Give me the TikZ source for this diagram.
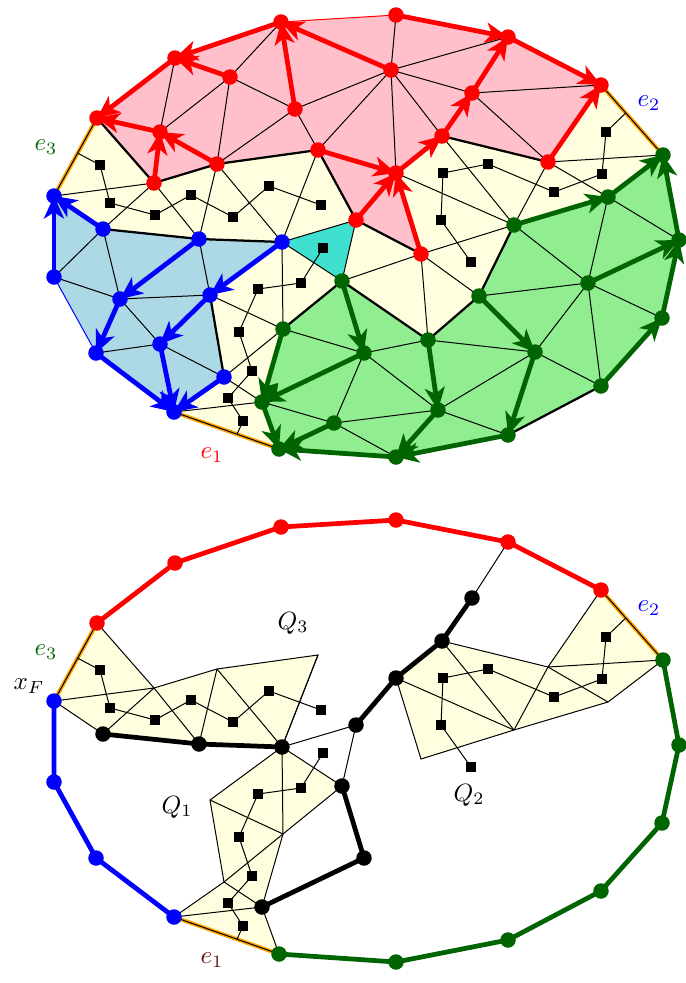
\documentclass[tikz,border=0pt]{standalone}
\usepackage{xcolor}
\usetikzlibrary{arrows.meta,calc}
\definecolor{TRed}{HTML}{FF0000}
\definecolor{TBlue}{HTML}{0000FF}
\definecolor{TGreen}{HTML}{006400}
\definecolor{TOrange}{HTML}{FFA500}
\definecolor{TPink}{HTML}{FFC0CB}
\definecolor{TLightBlue}{HTML}{ADD8E6}
\definecolor{TLightGreen}{HTML}{90EE90}
\definecolor{TYellow}{HTML}{FFFFE0}
\definecolor{TCyan}{HTML}{40E0D0}
\definecolor{TDarkRed}{HTML}{5A1010}

\tikzset{
  edge/.style={line width=.4pt},
  cut/.style={line width=.9pt},
  rim/.style={line width=1.9pt,line join=round},
  flow/.style={line width=1.9pt,-{Stealth[length=9pt,width=8pt,inset=2.5pt]}},
  eside/.style={TOrange,line width=1.6pt}
}
\newcommand\dotr{3.1pt}

% vertices of the triangulation and dual (square) points
\newcommand\setvertices{%
  \foreach \n/\x/\y in {R1/97/118,R2/175/58,R3/281/22,R4/396/15,R5/508/37,R6/601/85,
    G1/663/155,G2/679/240,G3/662/318,G4/601/386,G5/508/435,G6/396/457,G7/279/449,
    B1/174/412,B2/96/353,B3/54/277,B4/54/196,
    ra/230/77,rb/295/109,rc/160/132,rd/217/164,re/318/150,rf/154/183,rg/391/70,
    rh/472/93,ri/442/136,rj/548/162,rk/396/173,rl/356/220,rm/421/254,
    ba/103/229,bb/199/239,bc/282/242,bd/120/299,be/210/295,bf/160/344,bg/224/377,
    ga/608/197,gb/514/225,gc/342/281,gd/283/329,ge/262/402,gf/334/423,gg/588/283,
    gh/479/296,gi/428/340,gj/364/353,gk/535/352,gl/438/410}
    \coordinate (\n) at (\x,\y);
  \foreach \n/\x/\y in {u1/100/165,u2/110/203,u3/155/215,u4/191/195,u5/233/217,u6/269/186,u7/321/205,
    v1/243/421,v2/228/398,v3/252/371,v4/239/332,v5/258/289,v6/301/283,v7/323/248,
    w1/606/132,w2/602/174,w3/554/192,w4/488/164,w5/443/173,w6/441/220,w7/471/262}
    \coordinate (\n) at (\x,\y);
}
\newcommand\dualtrees{%
  \draw[edge] ($(R1)!.45!(B4)$) -- (u1) -- (u2) -- (u3) -- (u4) -- (u5) -- (u6) -- (u7);
  \draw[edge] ($(B1)!.6!(G7)$) -- (v1) -- (v2) -- (v3) -- (v4) -- (v5) -- (v6) -- (v7);
  \draw[edge] ($(R6)!.4!(G1)$) -- (w1) -- (w2) -- (w3) -- (w4) -- (w5) -- (w6) -- (w7);
  \foreach \n in {u1,u2,u3,u4,u5,u6,u7,v1,v2,v3,v4,v5,v6,v7,w1,w2,w3,w4,w5,w6,w7}
    \fill (\n) ++(-1.9pt,-1.9pt) rectangle ++(3.8pt,3.8pt);
}

\begin{document}
\begin{tikzpicture}[x=.4pt,y=-.4pt]
\path[use as bounding box] (0,0) rectangle (686,983);

%% upper panel
\setvertices
\fill[TYellow] (R1) -- (R2) -- (R3) -- (R4) -- (R5) -- (R6) -- (G1) -- (G2) -- (G3) -- (G4) -- (G5) -- (G6) -- (G7) -- (B1) -- (B2) -- (B3) -- (B4) -- cycle;
\fill[TPink] (R1) -- (R2) -- (R3) -- (R4) -- (R5) -- (R6) -- (rj) -- (ri) -- (rk) -- (rm) -- (rl) -- (re) -- (rd) -- (rf) -- cycle;
\fill[TLightBlue] (B4) -- (ba) -- (bb) -- (bc) -- (be) -- (bg) -- (B1) -- (B2) -- (B3) -- cycle;
\fill[TLightGreen] (G1) -- (G2) -- (G3) -- (G4) -- (G5) -- (G6) -- (G7) -- (ge) -- (gd) -- (gc) -- (gi) -- (gh) -- (gb) -- (ga) -- cycle;
\fill[TCyan] (bc) -- (rl) -- (gc) -- cycle;
\foreach \a/\b in {R2/rc,ra/rc,ra/rd,ra/R3,ra/rb,rb/rd,rb/re,rb/rg,rg/R4,rg/R5,rg/rh,rg/rk,rg/ri,rg/re,rh/R6,rh/rj,
  B4/rf,rf/ba,rf/bb,rd/bb,rd/bc,re/bc,bc/rl,rl/gc,gc/bc,
  bc/gd,be/gd,bg/gd,bg/ge,B1/ge,
  rm/gc,rm/gi,rm/gh,rm/gb,rk/gb,ri/gb,rj/gb,rj/ga,rj/G1,
  B3/ba,B3/bd,ba/bd,bb/be,bd/be,bd/bf,B2/bf,bf/bg,
  gd/gj,gj/gi,gb/gg,ga/gg,ga/G2,gh/gg,gg/gk,gi/gk,gg/G3,gg/G4,gk/G4,gk/gl,gj/gl,gj/gf,ge/gf,gf/gl,gf/G6,gl/G5}
  \draw[edge] (\a) -- (\b);
\foreach \a/\b in {R1/rf,rf/rd,rd/re,re/rl,rl/rm,ri/rj,ba/bb,bb/bc,be/bg,gc/gd,gc/gi,gi/gh,gh/gb,G4/G5}
  \draw[cut] (\a) -- (\b);
\draw[edge,TRed] (R3) -- (R4);
\draw[edge,TBlue] (B3) -- (B2);
\foreach \a/\b in {R1/B4,R6/G1,B1/G7} {\draw[eside] (\a) -- (\b); \draw[edge] (\a) -- (\b);}
\dualtrees
\foreach \n in {R1,R2,R3,R4,R5,R6,ra,rb,rc,rd,re,rf,rg,rh,ri,rj,rk,rl,rm}
  \fill[TRed] (\n) circle (\dotr);
\foreach \n in {B1,B2,B3,B4,ba,bb,bc,bd,be,bf,bg}
  \fill[TBlue] (\n) circle (\dotr);
\foreach \n in {G1,G2,G3,G4,G5,G6,G7,ga,gb,gc,gd,ge,gf,gg,gh,gi,gj,gk,gl}
  \fill[TGreen] (\n) circle (\dotr);
\foreach \a/\b in {R2/R1,R3/R2,ra/R2,rb/R3,rg/R3,R4/R5,R5/R6,rc/R1,rd/rc,rf/rc,re/rk,rl/rk,rm/rk,rk/ri,ri/rh,rh/R5,rj/R6}
  \draw[flow,TRed] (\a) -- (\b);
\foreach \a/\b in {ba/B4,B3/B4,bb/bd,bd/B2,B2/B1,bc/be,be/bf,bf/B1,bg/B1}
  \draw[flow,TBlue] (\a) -- (\b);
\foreach \a/\b in {gb/ga,ga/G1,G2/G1,G3/G2,G4/G3,gg/G2,gh/gk,gk/G5,G5/G6,gi/gl,gl/G6,G6/G7,gf/G7,ge/G7,gd/ge,gc/gj,gj/ge}
  \draw[flow,TGreen] (\a) -- (\b);
\node[TGreen] (e3top) at (46,147) {$e_3$};
\node[TBlue] (e2top) at (649,103) {$e_2$};
\node[TRed] (e1top) at (212,455) {$e_1$};

%% lower panel
\begin{scope}[shift={(0,505)}]
\setvertices
\filldraw[fill=TYellow,edge] (R1) -- (B4) -- (ba) -- (bb) -- (bc) -- (re) -- (rd) -- (rf) -- cycle;
\filldraw[fill=TYellow,edge] (bc) -- (gc) -- (gd) -- (ge) -- (G7) -- (B1) -- (bg) -- (be) -- cycle;
\filldraw[fill=TYellow,edge] (rk) -- (ri) -- (rj) -- (R6) -- (G1) -- (ga) -- (gb) -- (rm) -- cycle;
\foreach \a/\b in {B4/rf,rf/ba,rf/bb,rd/bb,rd/bc,re/bc,
  bc/gd,be/gd,bg/gd,bg/ge,B1/ge,
  rk/gb,ri/gb,rj/gb,rj/ga,rj/G1,
  bc/rl,rl/gc,rh/R5}
  \draw[edge] (\a) -- (\b);
\foreach \a/\b in {R1/B4,R6/G1,B1/G7} {\draw[eside] (\a) -- (\b); \draw[edge] (\a) -- (\b);}
\dualtrees
\draw[rim] (ba) -- (bb) -- (bc);
\draw[rim] (rl) -- (rk) -- (ri) -- (rh);
\draw[rim] (gc) -- (gj) -- (ge);
\draw[rim,TRed] (R1) -- (R2) -- (R3) -- (R4) -- (R5) -- (R6);
\draw[rim,TGreen] (G1) -- (G2) -- (G3) -- (G4) -- (G5) -- (G6) -- (G7);
\draw[rim,TBlue] (B1) -- (B2) -- (B3) -- (B4);
\foreach \n in {R1,R2,R3,R4,R5,R6}
  \fill[TRed] (\n) circle (\dotr);
\foreach \n in {G1,G2,G3,G4,G5,G6,G7}
  \fill[TGreen] (\n) circle (\dotr);
\foreach \n in {B1,B2,B3,B4}
  \fill[TBlue] (\n) circle (\dotr);
\foreach \n in {ba,bb,bc,rl,rk,ri,rh,gc,gj,ge}
  \fill (\n) circle (\dotr);
\node[TGreen] (e3low) at (46,147) {$e_3$};
\node[TBlue] (e2low) at (649,103) {$e_2$};
\node[TDarkRed] (e1low) at (212,455) {$e_1$};
\node (xF) at (29,181) {$x_F$};
\node (Q3) at (293,118) {$Q_3$};
\node (Q1) at (177,302) {$Q_1$};
\node (Q2) at (469,290) {$Q_2$};
\end{scope}
\end{tikzpicture}
\end{document}
